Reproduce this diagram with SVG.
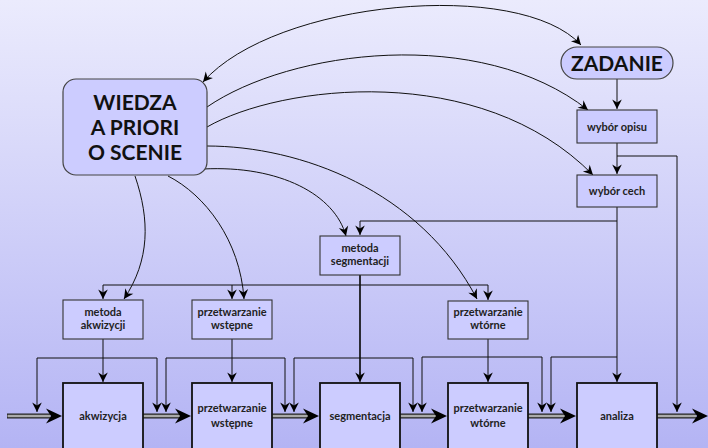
<svg xmlns="http://www.w3.org/2000/svg" width="708" height="448" viewBox="0 0 708 448">
<defs>
<linearGradient id="bg" x1="0" y1="0" x2="0" y2="1">
<stop offset="0" stop-color="#ebebfd"/>
<stop offset="1" stop-color="#b4b4f4"/>
</linearGradient>
<marker id="ah" markerUnits="userSpaceOnUse" markerWidth="12" markerHeight="12" viewBox="-9 -5 10 10" refX="0" refY="0" orient="auto-start-reverse">
<path d="M0,0 L-8,-4 L-5.5,0 L-8,4 Z" fill="#000"/>
</marker>
</defs>
<style>
.box{fill:#ccccff;stroke:#333;stroke-width:1.1}
.main{fill:#ccccff;stroke:#111;stroke-width:1.8}
.t{font-family:Lato,"Liberation Sans",sans-serif;font-weight:bold;font-size:11px;fill:#222;text-anchor:middle}
.big{font-family:Lato,"Liberation Sans",sans-serif;font-weight:bold;font-size:21px;fill:#111;text-anchor:middle}
.c{fill:none;stroke:#111;stroke-width:1}
.ca{fill:none;stroke:#111;stroke-width:1;marker-end:url(#ah)}
.dblo{fill:none;stroke:#222;stroke-width:5}
.dbli{fill:none;stroke:#aaaaaa;stroke-width:2.6}
</style>
<rect x="0" y="0" width="708" height="448" fill="url(#bg)"/>

<g id="connectors">
<path class="ca" d="M203,82 C275,0 520,-22 581,45" marker-start="url(#ah)"/>
<path class="ca" d="M207,107 C290,50 480,25 588,110"/>
<path class="ca" d="M207,127 C280,85 480,60 593,175"/>
<path class="ca" d="M207,146 C300,146 420,190 477,299"/>
<path class="ca" d="M203,169 C280,165 335,195 346,236"/>
<path class="ca" d="M168,176 C205,195 240,240 244,299"/>
<path class="ca" d="M135,176 C150,220 150,260 124,299"/>

<path class="ca" d="M617,79 V109"/>
<path class="ca" d="M617,143 V174"/>
<path class="c" d="M617,156 H677"/>
<path class="ca" d="M677,156 V412"/>
<path class="ca" d="M617,207 V382"/>
<path class="ca" d="M617,221 H360 V235"/>

<path class="c" style="stroke-width:1.7" d="M360,275 V375"/>
<path class="ca" d="M360,372 V382"/>
<path class="c" d="M103,285 H488"/>
<path class="ca" d="M103,285 V299"/>
<path class="ca" d="M232,285 V299"/>
<path class="ca" d="M488,285 V300"/>

<path class="ca" d="M103,339 V382"/>
<path class="ca" d="M37,358 H157 V412"/>
<path class="ca" d="M37,358 V412"/>
<path class="ca" d="M232,339 V382"/>
<path class="ca" d="M166,358 H285 V412"/>
<path class="ca" d="M166,358 V412"/>
<path class="ca" d="M294,358 H413 V412"/>
<path class="ca" d="M294,358 V412"/>
<path class="ca" d="M488,339 V382"/>
<path class="ca" d="M422,357 H542 V412"/>
<path class="ca" d="M422,357 V412"/>
<path class="ca" d="M617,357 H551 V412"/>

<g id="flow">
<path class="dblo" d="M7,416 H50 M143,416 H180 M272,416 H308 M400,416 H436 M528,416 H565 M657,416 H696"/>
<path class="dbli" d="M7.5,416 H50 M143,416 H180 M272,416 H308 M400,416 H436 M528,416 H565 M657,416 H696"/>
<path d="M62,416 L46,408.5 L51,416 L46,423.5 Z M191,416 L175,408.5 L180,416 L175,423.5 Z M319,416 L303,408.5 L308,416 L303,423.5 Z M447,416 L431,408.5 L436,416 L431,423.5 Z M576,416 L560,408.5 L565,416 L560,423.5 Z M708,416 L692,408.5 L697,416 L692,423.5 Z" fill="#000"/>
</g>
</g>

<g id="wiedza">
<rect x="63" y="79" width="144" height="96" rx="13" fill="#ccccff" stroke="#444" stroke-width="1.2"/>
<text class="big" x="135" y="110">WIEDZA</text>
<text class="big" x="135" y="135">A PRIORI</text>
<text class="big" x="135" y="160">O SCENIE</text>
</g>
<g id="zadanie">
<rect x="561" y="47" width="112" height="32" rx="16" fill="#ccccff" stroke="#444" stroke-width="1.2"/>
<text class="big" x="617" y="70.5">ZADANIE</text>
</g>
<g id="wybor-opisu">
<rect class="box" x="577" y="110" width="80" height="33"/>
<text class="t" x="617" y="130.5">wybór opisu</text>
</g>
<g id="wybor-cech">
<rect class="box" x="577" y="175" width="80" height="32"/>
<text class="t" x="617" y="195">wybór cech</text>
</g>
<g id="metoda-segmentacji">
<rect class="box" x="320" y="236" width="80" height="39"/>
<text class="t" x="360" y="252">metoda</text>
<text class="t" x="360" y="265">segmentacji</text>
</g>
<g id="metoda-akwizycji">
<rect class="box" x="63" y="300" width="80" height="39"/>
<text class="t" x="103" y="316">metoda</text>
<text class="t" x="103" y="329">akwizycji</text>
</g>
<g id="pw-gora">
<rect class="box" x="192" y="300" width="80" height="39"/>
<text class="t" x="232" y="316">przetwarzanie</text>
<text class="t" x="232" y="329">wstępne</text>
</g>
<g id="pwt-gora">
<rect class="box" x="448" y="301" width="80" height="38"/>
<text class="t" x="488" y="316">przetwarzanie</text>
<text class="t" x="488" y="329">wtórne</text>
</g>
<g id="akwizycja">
<rect class="main" x="63" y="383" width="80" height="70"/>
<text class="t" x="103" y="420">akwizycja</text>
</g>
<g id="przetwarzanie-wstepne">
<rect class="main" x="192" y="383" width="80" height="70"/>
<text class="t" x="232" y="412">przetwarzanie</text>
<text class="t" x="232" y="427">wstępne</text>
</g>
<g id="segmentacja">
<rect class="main" x="320" y="383" width="80" height="70"/>
<text class="t" x="360" y="420">segmentacja</text>
</g>
<g id="przetwarzanie-wtorne">
<rect class="main" x="448" y="383" width="80" height="70"/>
<text class="t" x="488" y="412">przetwarzanie</text>
<text class="t" x="488" y="427">wtórne</text>
</g>
<g id="analiza">
<rect class="main" x="577" y="383" width="80" height="70"/>
<text class="t" x="617" y="420">analiza</text>
</g>
</svg>
